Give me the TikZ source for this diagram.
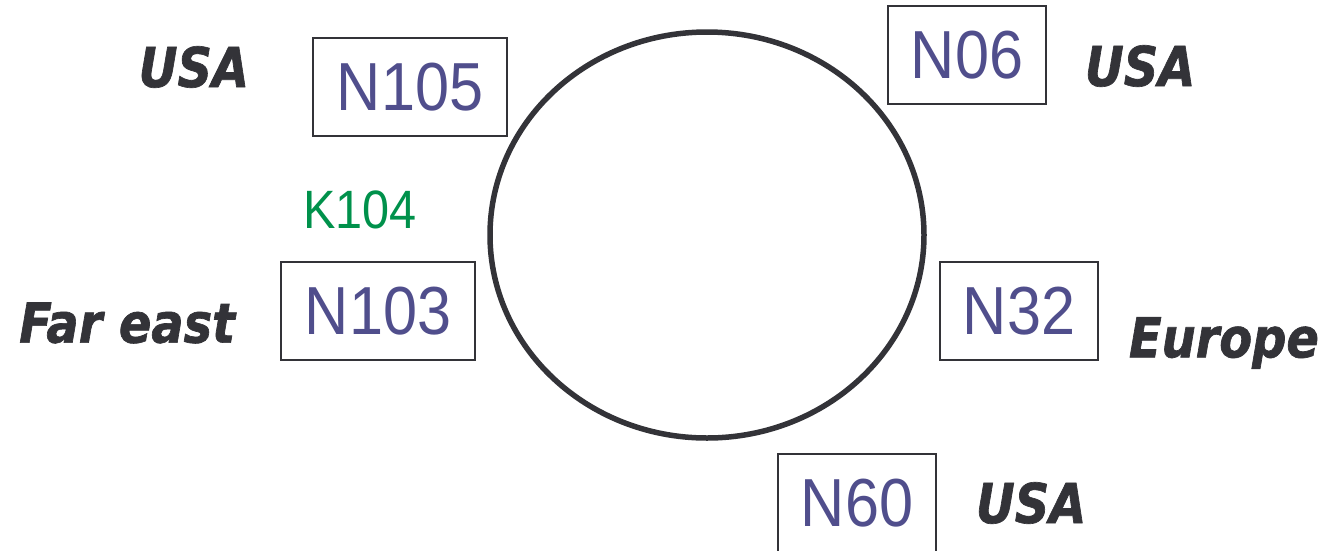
\documentclass[tikz,border=0pt]{standalone}
\usepackage{fontspec}
\usepackage{xcolor}
\usepackage{tikz}
\usetikzlibrary{positioning,shapes.geometric}
\newfontfamily\boxfont[FakeStretch=0.9]{Liberation Sans}
\newfontfamily\tagfont[FakeStretch=0.87,FakeBold=1.2,BoldItalicFont={DejaVu Sans Bold Oblique}]{DejaVu Sans}
\definecolor{nodeBlue}{RGB}{80,78,140}
\definecolor{keyGreen}{RGB}{0,145,75}
\definecolor{inkGray}{RGB}{51,51,56}

\begin{document}
\begin{tikzpicture}[
  x=1pt,y=-1pt,
  srv/.style={draw=inkGray,line width=1.5pt,minimum height=98pt,inner sep=0pt,
              text=nodeBlue,font=\boxfont\fontsize{68}{70}\selectfont},
  wide/.style={srv,minimum width=194pt},
  slim/.style={srv,minimum width=158pt},
  region/.style={inner sep=0pt,text=inkGray,font=\tagfont\bfseries\itshape\fontsize{55}{60}\selectfont},
  keylbl/.style={inner sep=0pt,text=keyGreen,font=\boxfont\fontsize{54}{58}\selectfont},
]
\useasboundingbox (0,0) rectangle (1328,550);

% the ring
\node[ellipse,draw=inkGray,line width=5.5pt,minimum width=434pt,minimum height=406pt,inner sep=0pt]
  (ring) at (707,235) {};

% nodes on the ring
\node[wide] (n105) at (410,87) {N105};
\node[wide] (n103) at (378,311) {N103};
\node[slim] (n06) at (967,55) {N06};
\node[slim] (n32) at (1019,311) {N32};
\node[slim] (n60) at (857,503) {N60};

% key between N105 and N103
\node[keylbl] (k104) at (360,210) {K104};

% regions
\node[region,left=63pt of n105,yshift=20pt] (usa1) {USA};
\node[region,left=45pt of n103,yshift=-12pt] (fareast) {Far east};
\node[region,right=38pt of n06,yshift=-11pt] (usa2) {USA};
\node[region,right=30pt of n32,yshift=-32pt] (europe) {Europe};
\node[region,right=39pt of n60] (usa3) {USA};
\end{tikzpicture}
\end{document}
